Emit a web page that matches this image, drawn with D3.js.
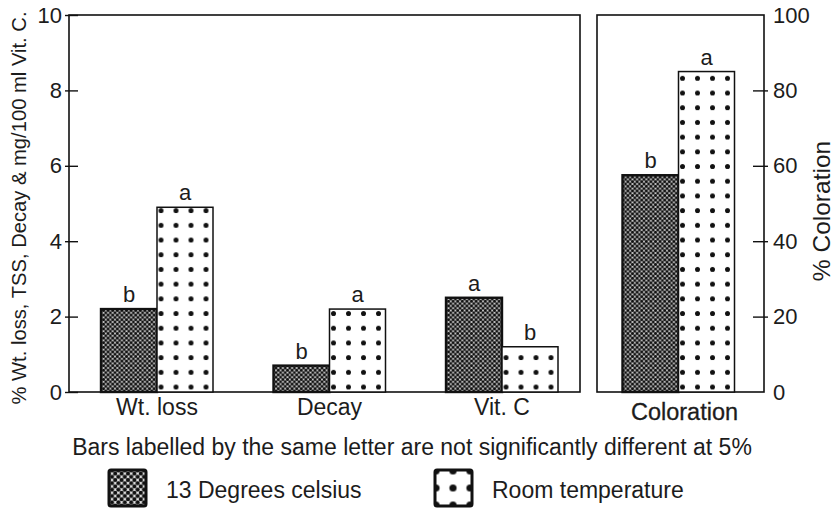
<!DOCTYPE html>
<html>
<head>
<meta charset="utf-8">
<script src="https://cdn.jsdelivr.net/npm/d3@7"></script>
<style>
  body { margin: 0; background: #fff; }
  text { font-family: "Liberation Sans", Arial, sans-serif; fill: #1c1c1c; }
</style>
</head>
<body>
<script>
// values
let categories = ["Wt. loss", "Decay", "Vit. C"];
let series = ["13 Degrees celsius", "Room temperature"];
let cold = [2.2, 0.7, 2.5];          // 13 degrees
let room = [4.9, 2.2, 1.2];          // room temperature
let coldLetters = ["b", "b", "a"];
let roomLetters = ["a", "a", "b"];
let colorCat = ["Coloration"];
let colorCold = [57.5];
let colorRoom = [85];
let colorLetters = ["b", "a"];
let leftTicks = [0, 2, 4, 6, 8, 10];
let rightTicks = [0, 20, 40, 60, 80, 100];
let footnote = "Bars labelled by the same letter are not significantly different at 5%";

let w = 837, h = 513;
let topY = 15, bottomY = 392;
let left1 = 69, right1 = 580, left2 = 597, right2 = 764;
let barW = 56;

let svg = d3.select("body").append("svg")
    .attr("width", w)
    .attr("height", h);

let defs = svg.append("defs");

// dark checker pattern (cell = size of the lattice)
function checker(id, cell, r) {
    let p = defs.append("pattern")
        .attr("id", id)
        .attr("patternUnits", "userSpaceOnUse")
        .attr("width", cell).attr("height", cell);
    p.append("rect").attr("width", cell).attr("height", cell).attr("fill", "#e6e6e6");
    [[0,0],[cell,0],[0,cell],[cell,cell],[cell/2,cell/2]].forEach(function(q) {
        p.append("circle").attr("cx", q[0]).attr("cy", q[1]).attr("r", r).attr("fill", "#111");
    });
    return "url(#" + id + ")";
}
let checkerFill = checker("checker", 4.6, 1.55);
let checkerLegend = checker("checker2", 6.4, 2.1);

let dotCount = 0;
function dotPattern(x0, y0, sx, sy, r) {
    let id = "dots" + (dotCount++);
    let p = defs.append("pattern")
        .attr("id", id)
        .attr("patternUnits", "userSpaceOnUse")
        .attr("x", x0 - sx / 2).attr("y", y0 - sy / 2)
        .attr("width", sx).attr("height", sy);
    p.append("rect").attr("width", sx).attr("height", sy).attr("fill", "#fff");
    p.append("circle").attr("cx", sx / 2).attr("cy", sy / 2).attr("r", r).attr("fill", "#111");
    return "url(#" + id + ")";
}

let yL = d3.scaleLinear().domain([0, 10]).range([bottomY, topY]);
let yR = d3.scaleLinear().domain([0, 100]).range([bottomY, topY]);
let x1 = d3.scalePoint().domain(categories).range([157, 502]);
let x2 = d3.scalePoint().domain(colorCat).range([left2, right2 - 4]).padding(0.5);
let xs = d3.scaleBand().domain(series).range([-barW, barW]);

// frames
svg.append("rect")
    .attr("x", left1).attr("y", topY)
    .attr("width", right1 - left1).attr("height", bottomY - topY)
    .attr("fill", "none").attr("stroke", "#111").attr("stroke-width", 1.6);
svg.append("rect")
    .attr("x", left2).attr("y", topY)
    .attr("width", right2 - left2).attr("height", bottomY - topY)
    .attr("fill", "none").attr("stroke", "#111").attr("stroke-width", 1.6);

// left axis
let axL = svg.append("g")
    .attr("transform", "translate(" + left1 + ",0)")
    .call(d3.axisLeft(yL).tickValues(leftTicks).tickSize(-9).tickPadding(7));
axL.select(".domain").remove();
axL.selectAll("line").attr("x1", -4).attr("stroke", "#111").attr("stroke-width", 1.4);
axL.selectAll("text").attr("font-size", 22).attr("font-family", null);

// right axis
let axR = svg.append("g")
    .attr("transform", "translate(" + right2 + ",0)")
    .call(d3.axisRight(yR).tickValues(rightTicks).tickSize(-11).tickPadding(9));
axR.select(".domain").remove();
axR.selectAll("line").attr("x1", 4).attr("stroke", "#111").attr("stroke-width", 1.4)
    .filter(function(d) { return d === 0 || d === 100; }).remove();
axR.selectAll("text").attr("font-size", 22).attr("font-family", null);

// bars
function drawBars(g, xScale, cats, valsCold, valsRoom, yScale) {
    cats.forEach(function(c, i) {
        let cx = xScale(c);
        let xc = cx + xs(series[0]);
        let xr = cx + xs(series[1]);
        g.append("rect")
            .attr("x", xc).attr("y", yScale(valsCold[i]))
            .attr("width", xs.bandwidth()).attr("height", yScale(0) - yScale(valsCold[i]))
            .attr("fill", checkerFill)
            .attr("stroke", "#111").attr("stroke-width", 2.4);
        g.append("rect")
            .attr("x", xr).attr("y", yScale(valsRoom[i]))
            .attr("width", xs.bandwidth()).attr("height", yScale(0) - yScale(valsRoom[i]))
            .attr("fill", dotPattern(xr + 4, yScale(0) - 5, 15, 14.7, 2.5))
            .attr("stroke", "#111").attr("stroke-width", 1.5);
    });
}
drawBars(svg.append("g"), x1, categories, cold, room, yL);
drawBars(svg.append("g"), x2, colorCat, colorCold, colorRoom, yR);

// significance letters
function drawLetters(xScale, cats, valsCold, valsRoom, yScale, lc, lr) {
    cats.forEach(function(c, i) {
        let half = xs.bandwidth() / 2;
        svg.append("text")
            .attr("x", xScale(c) + xs(series[0]) + half)
            .attr("y", yScale(valsCold[i]) - 7)
            .attr("text-anchor", "middle").attr("font-size", 22)
            .text(lc[i]);
        svg.append("text")
            .attr("x", xScale(c) + xs(series[1]) + half)
            .attr("y", yScale(valsRoom[i]) - 7)
            .attr("text-anchor", "middle").attr("font-size", 22)
            .text(lr[i]);
    });
}
drawLetters(x1, categories, cold, room, yL, coldLetters, roomLetters);
drawLetters(x2, colorCat, colorCold, colorRoom, yR, [colorLetters[0]], [colorLetters[1]]);

// category labels
svg.selectAll(".cat")
    .data(categories)
    .enter()
    .append("text")
    .attr("x", function(d) { return x1(d); })
    .attr("y", 415)
    .attr("text-anchor", "middle")
    .attr("font-size", 23)
    .text(function(d) { return d; });
svg.append("text")
    .attr("x", x2(colorCat[0]) + 6)
    .attr("y", 420)
    .attr("text-anchor", "middle")
    .attr("font-size", 23.5)
    .attr("stroke", "#1c1c1c").attr("stroke-width", 0.3)
    .text(colorCat[0]);

// axis titles
svg.append("text")
    .attr("transform", "translate(26,208) rotate(-90)")
    .attr("text-anchor", "middle")
    .attr("font-size", 20.2)
    .text("% Wt. loss, TSS, Decay & mg/100 ml Vit. C.");
svg.append("text")
    .attr("transform", "translate(830,211) rotate(-90)")
    .attr("text-anchor", "middle")
    .attr("font-size", 24.5)
    .text("% Coloration");

// footnote
svg.append("text")
    .attr("x", 412).attr("y", 455)
    .attr("text-anchor", "middle")
    .attr("font-size", 23)
    .text(footnote);

// legend
let legX = [109, 435];
let lg = svg.append("g");
lg.append("rect")
    .attr("x", legX[0]).attr("y", 470).attr("width", 37).attr("height", 36)
    .attr("rx", 2)
    .attr("fill", checkerLegend).attr("stroke", "#111").attr("stroke-width", 3);
lg.append("rect")
    .attr("x", legX[1]).attr("y", 470).attr("width", 37).attr("height", 36)
    .attr("rx", 2)
    .attr("fill", dotPattern(legX[1] + 1, 471, 17, 17, 3.6))
    .attr("stroke", "#111").attr("stroke-width", 3);
series.forEach(function(s, i) {
    lg.append("text")
        .attr("x", legX[i] + 57).attr("y", 498)
        .attr("font-size", 23)
        .text(s);
});
</script>
</body>
</html>
